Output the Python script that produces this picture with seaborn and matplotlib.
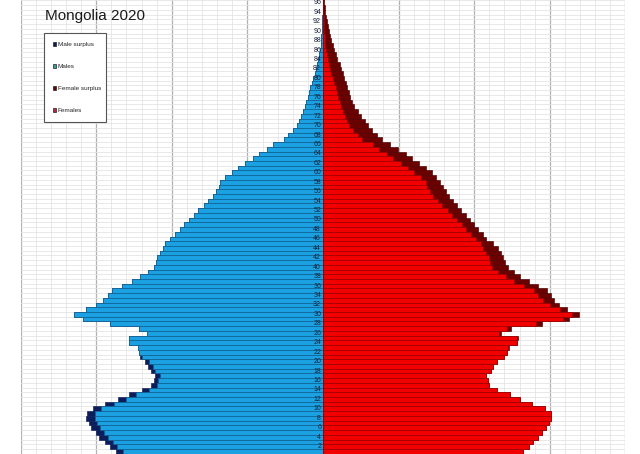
import numpy as np
import pandas as pd
import matplotlib
matplotlib.use("Agg")
import matplotlib.pyplot as plt
from matplotlib.patches import Patch
import seaborn as sns

TITLE = "Mongolia 2020"
legend_labels = ["Male surplus", "Males", "Female surplus", "Females"]

# single-year ages 0..100, population in thousands
ages = list(range(0, 101))
males = [
    26.7, 27.4, 28.2, 28.9, 29.6, 30.0, 30.7, 31.0, 31.3, 31.2,   # 0-9
    30.4, 28.8, 27.1, 25.6, 23.9, 22.8, 22.3, 22.2, 22.7, 23.1,   # 10-19
    23.6, 24.2, 24.4, 24.5, 25.7, 25.6, 23.3, 24.3, 28.2, 31.7,   # 20-29
    32.9, 31.3, 30.0, 29.1, 28.5, 27.9, 26.6, 25.3, 24.2, 23.2,   # 30-39
    22.4, 22.1, 21.9, 21.6, 21.2, 20.9, 20.2, 19.6, 18.9, 18.4,   # 40-49
    17.7, 17.1, 16.5, 15.8, 15.2, 14.6, 14.2, 13.8, 13.6, 13.0,   # 50-59
    12.0, 11.3, 10.3, 9.3, 8.4, 7.4, 6.6, 5.2, 4.6, 4.0,          # 60-69
    3.4, 3.2, 2.9, 2.6, 2.4, 2.2, 2.0, 1.8, 1.7, 1.5,             # 70-79
    1.3, 1.1, 0.9, 0.75, 0.6, 0.5, 0.4, 0.32, 0.26, 0.2,          # 80-89
    0.15, 0.12, 0.1, 0.08, 0.06, 0.05, 0.04, 0.03, 0.02, 0.01,    # 90-99
    0.01,                                                         # 100
]
females = [
    25.7, 26.4, 27.2, 27.8, 28.5, 29.0, 29.5, 29.9, 30.1, 30.1,   # 0-9
    29.4, 27.7, 26.1, 24.7, 23.0, 22.0, 21.8, 21.6, 22.2, 22.5,   # 10-19
    23.0, 23.9, 24.4, 24.6, 25.6, 25.8, 23.5, 24.9, 29.0, 32.6,   # 20-29
    33.8, 32.3, 31.2, 30.6, 30.1, 29.6, 28.4, 27.2, 26.1, 25.2,   # 30-39
    24.5, 24.1, 23.8, 23.5, 23.2, 22.5, 21.6, 21.1, 20.5, 20.0,   # 40-49
    19.4, 18.9, 18.3, 17.7, 17.2, 16.7, 16.3, 15.9, 15.5, 15.0,   # 50-59
    14.4, 13.6, 12.7, 11.8, 11.0, 9.9, 8.9, 7.8, 7.1, 6.5,        # 60-69
    5.9, 5.5, 5.0, 4.6, 4.1, 3.8, 3.6, 3.4, 3.2, 3.0,             # 70-79
    2.8, 2.6, 2.4, 2.2, 1.9, 1.7, 1.5, 1.3, 1.1, 0.95,            # 80-89
    0.8, 0.65, 0.5, 0.4, 0.3, 0.22, 0.16, 0.1, 0.07, 0.05,        # 90-99
    0.03,                                                         # 100
]
age_labels = list(range(2, 97, 2))

MALE = "#1BA1E2"
MALE_EDGE = "#0E5F8F"
MALE_SURPLUS = "#0C1D5C"
FEMALE = "#F20000"
FEMALE_EDGE = "#9A0000"
FEMALE_SURPLUS = "#6A0000"

sns.set_theme(style="white")
plt.rcParams["font.family"] = ["Liberation Sans", "DejaVu Sans"]

df = pd.DataFrame({"age": ages, "male": males, "female": females})
df["common"] = df[["male", "female"]].min(axis=1)

fig = plt.figure(figsize=(6.4, 4.54), dpi=100)
# plot area runs past the top and bottom of the picture (cropped pyramid)
ax = fig.add_axes([20.6 / 640, -4.4 / 454, 604.8 / 640, 476.8 / 454])

bar_kw = dict(orient="y", native_scale=True, width=1.0, saturation=1,
              errorbar=None, linewidth=0.45, ax=ax)
sns.barplot(x=-df["male"], y=df["age"], color=MALE_SURPLUS,
            edgecolor=MALE_SURPLUS, **bar_kw)
sns.barplot(x=-df["common"], y=df["age"], color=MALE,
            edgecolor=MALE_EDGE, **bar_kw)
sns.barplot(x=df["female"], y=df["age"], color=FEMALE_SURPLUS,
            edgecolor="#4A0000", **bar_kw)
sns.barplot(x=df["common"], y=df["age"], color=FEMALE,
            edgecolor=FEMALE_EDGE, **bar_kw)

ax.set_xlim(-40, 40)
ax.set_ylim(-0.5, 100.5)
ax.set_xlabel("")
ax.set_ylabel("")

ax.set_xticks(np.arange(-40, 41, 10))
ax.set_xticks(np.arange(-40, 41, 2), minor=True)
ax.set_yticks([])
ax.set_yticks(np.arange(-0.5, 101, 1), minor=True)
ax.grid(which="minor", color="#E4E4E4", linewidth=0.6)
ax.grid(which="major", axis="x", color="#B2B2B2", linewidth=0.9)
ax.set_axisbelow(True)
ax.tick_params(which="both", length=0, labelbottom=False, labelleft=False)
for s in ax.spines.values():
    s.set_visible(False)

for a in age_labels:
    ax.text(-0.25, a, str(a), ha="right", va="center", fontsize=5,
            color="#1A2238")

fig.text(45 / 640, 1 - 16 / 454, TITLE, fontsize=11, ha="left", va="center",
         color="#1A1A1A")

handles = [
    Patch(facecolor=MALE_SURPLUS, edgecolor="#222222", linewidth=0.5),
    Patch(facecolor="#3A9CA8", edgecolor="#222222", linewidth=0.5),
    Patch(facecolor=FEMALE_SURPLUS, edgecolor="#222222", linewidth=0.5),
    Patch(facecolor="#C0253A", edgecolor="#222222", linewidth=0.5),
]
leg = ax.legend(handles, legend_labels, loc="upper left", mode="expand",
                bbox_to_anchor=(44 / 640, 1 - 120 / 454, 62 / 640, 87 / 454),
                bbox_transform=fig.transFigure, fontsize=4.6, labelspacing=2.62,
                handlelength=0.6, handleheight=0.6, handletextpad=0.2,
                borderpad=1.35, borderaxespad=0, frameon=True, fancybox=False,
                framealpha=1, edgecolor="#555555")
leg.get_frame().set_linewidth(0.8)

fig.savefig("out.png", dpi=100)
